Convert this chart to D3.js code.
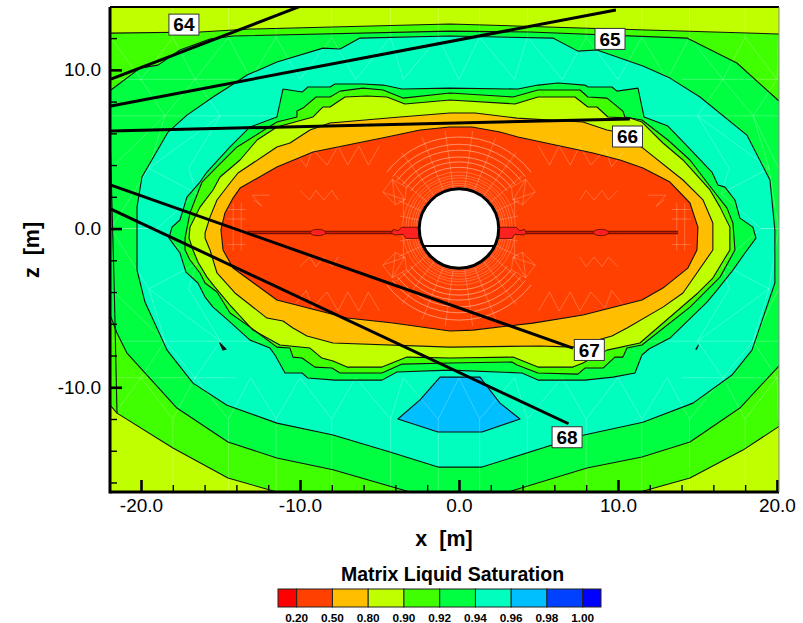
<!DOCTYPE html>
<html><head><meta charset="utf-8">
<script src="https://d3js.org/d3.v7.min.js"></script>
<style>html,body{margin:0;padding:0;background:#fff}svg{display:block}text{font-family:"Liberation Sans",Arial,sans-serif;fill:#000}</style>
</head><body><div id="chart"></div>
<script>
// ---------- data (metres) ----------
const legendLabels = ["0.20","0.50","0.80","0.90","0.92","0.94","0.96","0.98","1.00"];
const legendColors = ["#FF0000","#FF4000","#FFBF00","#BFFF00","#40FF00","#00FF40","#00FFBF","#00BFFF","#0040FF","#0000FF"];
const xMajor = [-20,-10,0,10,20];
const zMajor = [10,0,-10];
const xMinor = [-22,-18,-16,-14,-12,-8,-6,-4,-2,2,4,6,8,12,14,16,18];
const zMinor = [12,8,6,4,2,-2,-4,-6,-8,-12,-14,-16];

const contourA = [[-23,12.3],[-16.29,12.38],[-13.14,12.57],[-0.57,12.89],[7.61,12.64],[20.06,12.26],[21.5,12.2],[21.5,-11.5],[20.06,-12.51],[17.86,-13.96],[14.53,-15.72],[11.38,-16.6],[10.5,-17.2],[-10.5,-17.2],[-11.45,-16.6],[-14.53,-15.72],[-17.99,-13.83],[-21.51,-11.63],[-21.95,-11.12],[-23,-10.5]];
const contourB = [[-23,8],[-21.89,8.73],[-20.06,10.11],[-18.93,10.3],[-17.55,11.25],[-15.66,11.94],[-14.21,12.13],[-0.57,12.44],[4.47,12.38],[14.34,12.0],[17.48,10.43],[20.06,8.1],[21.5,7.0],[21.5,-7.5],[20.06,-8.73],[17.67,-11.31],[14.53,-13.45],[11.51,-14.4],[8.05,-15.09],[3.08,-16.6],[2.8,-17.2],[-3.2,-17.2],[-3.08,-16.6],[-7.92,-15.2],[-11.45,-14.46],[-14.53,-13.45],[-17.74,-11.31],[-20.88,-7.85],[-21.51,-6.58],[-21.89,-5.58],[-23,-4.5]];
const contourC = [[-0.57,12.13],[5.91,12.0],[7.48,11.18],[8.68,11.25],[11.57,10.24],[13.27,9.48],[15.16,8.29],[18.11,5.89],[19.56,3.06],[19.87,-0.09],[19.87,-3.43],[18.43,-7.66],[17.17,-9.23],[14.72,-11.0],[11.57,-12.2],[7.8,-13.02],[1.45,-15.03],[-1.32,-15.03],[-4.34,-14.08],[-7.92,-13.01],[-11.45,-12.26],[-14.59,-11.13],[-16.73,-9.74],[-18.36,-7.66],[-19.75,-4.63],[-20.25,-2.62],[-20.25,1.35],[-19.94,3.25],[-18.3,6.08],[-17.11,7.15],[-15.47,8.29],[-14.09,9.17],[-13.33,9.67],[-11.45,10.49],[-8.55,11.37],[-7.48,11.31],[-6.23,12.0]];
const contourD = [[-18.24,-0.6],[-18.05,0.09],[-17.55,0.54],[-17.11,1.98],[-16.29,2.93],[-15.85,3.56],[-14.4,5.14],[-13.14,6.4],[-11.45,7.03],[-11.07,8.79],[-9.87,8.6],[-9.5,8.92],[-8.11,8.92],[-7.8,9.11],[-6.04,9.11],[-4.78,9.04],[-3.58,8.79],[-0.57,8.85],[3.71,8.79],[4.97,9.04],[6.23,9.17],[7.92,9.04],[8.11,8.92],[9.62,8.92],[9.94,8.66],[11.26,8.85],[11.64,7.03],[13.14,6.46],[14.4,5.14],[15.91,3.56],[16.29,2.74],[16.73,2.61],[17.36,1.8],[17.67,0.66],[18.49,0.09],[18.68,-0.6],[17.99,-1.54],[17.23,-2.62],[16.23,-3.88],[15.6,-4.63],[13.27,-6.9],[11.95,-7.59],[11.51,-7.97],[11.07,-9.1],[9.69,-9.36],[7.92,-9.55],[4.97,-9.55],[3.96,-9.1],[-0.57,-8.92],[-3.9,-9.04],[-4.84,-9.55],[-7.8,-9.55],[-9.5,-9.42],[-9.87,-9.1],[-10.94,-9.1],[-11.57,-7.97],[-11.89,-7.53],[-13.14,-7.03],[-14.53,-5.77],[-15.47,-4.95],[-15.97,-4.32],[-16.42,-3.43],[-17.17,-2.74],[-17.55,-1.54]];
const contourE = [[-17.23,-0.6],[-16.92,0.98],[-16.16,2.93],[-15.22,3.88],[-13.96,5.14],[-11.45,6.71],[-10.19,7.03],[-10.19,7.4],[-9.81,7.59],[-8.99,8.29],[-8.11,8.29],[-7.48,8.66],[-6.04,8.85],[-4.78,8.73],[-3.52,8.22],[-0.57,8.54],[3.4,8.29],[4.97,8.73],[7.61,8.73],[8.11,8.29],[9.31,8.22],[10.31,7.4],[10.44,7.03],[11.51,6.84],[13.14,5.58],[14.53,4.32],[15.97,2.43],[16.86,1.29],[17.23,0.35],[17.36,-1.35],[16.42,-3.06],[15.6,-3.88],[14.53,-4.95],[11.51,-7.34],[10.57,-7.53],[10.31,-8.1],[9.81,-8.1],[9.06,-8.79],[7.92,-8.79],[7.48,-9.17],[4.97,-9.1],[3.65,-8.6],[3.33,-8.41],[-0.57,-8.47],[-3.58,-8.54],[-4.84,-9.1],[-7.48,-9.1],[-7.99,-8.79],[-9.06,-8.73],[-9.87,-8.16],[-10.44,-8.1],[-10.63,-7.53],[-11.45,-7.47],[-13.14,-6.21],[-14.4,-5.32],[-15.22,-4.0],[-15.97,-3.43],[-16.29,-2.8],[-16.92,-1.98],[-17.23,-1.35]];
const contourF = [[-16.98,-0.6],[-16.92,0.09],[-16.29,1.35],[-15.47,2.43],[-15.03,3.25],[-13.77,4.32],[-12.7,5.58],[-11.45,6.4],[-9.18,7.03],[-8.55,7.66],[-8.11,7.66],[-7.17,8.29],[-5.79,8.35],[-4.53,8.29],[-3.4,7.85],[-0.57,8.1],[3.52,7.85],[4.97,8.29],[7.3,8.29],[8.11,7.66],[8.68,7.66],[9.37,7.03],[10.75,6.96],[11.51,6.71],[12.83,5.39],[14.09,4.32],[15.79,2.43],[16.42,1.35],[17.04,0.09],[17.04,-1.35],[15.97,-3.12],[15.03,-4.06],[11.38,-7.21],[9.31,-7.66],[7.8,-8.47],[7.17,-8.73],[4.97,-8.73],[3.4,-8.1],[-0.57,-8.16],[-3.27,-8.1],[-4.84,-8.73],[-7.04,-8.73],[-7.92,-8.35],[-8.62,-8.16],[-9.37,-7.53],[-11.26,-7.34],[-12.96,-6.4],[-14.4,-4.82],[-15.35,-3.69],[-15.85,-3.06],[-16.42,-2.11],[-16.73,-1.35]];
const contourG = [[-15.97,-0.6],[-15.97,-0.28],[-15.66,0.72],[-15.22,1.8],[-14.4,2.87],[-13.9,3.5],[-11.45,5.14],[-10.63,5.39],[-9.37,6.21],[-8.11,6.65],[-3.71,7.03],[-0.57,7.28],[1.01,7.28],[3.65,6.96],[7.8,6.71],[9.31,6.21],[9.94,6.08],[11.57,5.07],[14.09,3.06],[15.35,1.8],[15.97,0.35],[15.97,-1.35],[14.09,-4.06],[12.83,-4.95],[10.57,-6.27],[9.62,-6.77],[7.17,-7.47],[5.09,-7.4],[-0.57,-7.47],[-7.92,-7.21],[-9.56,-6.77],[-10.44,-6.27],[-11.07,-5.83],[-12.08,-5.64],[-14.09,-4.06],[-15.22,-2.8],[-15.66,-1.35]];
const contourH = [[-14.97,-0.09],[-14.72,0.98],[-14.21,1.92],[-13.77,2.55],[-11.45,3.88],[-9.18,4.82],[-4.53,5.77],[-2.45,6.21],[-0.57,6.4],[0.82,6.4],[2.58,6.08],[3.71,5.77],[8.43,4.76],[10.13,4.32],[11.57,3.81],[13.27,2.93],[14.53,1.61],[15.03,0.09],[14.97,-1.35],[14.4,-2.49],[12.83,-3.75],[11.51,-4.5],[7.8,-5.45],[4.65,-5.96],[0.88,-6.4],[-0.57,-6.46],[-4.15,-5.95],[-7.04,-5.64],[-11.45,-4.5],[-14.21,-2.49],[-14.84,-1.35]];
const patchBlue = [[-1.19,-9.36],[-2.45,-10.8],[-3.84,-12.0],[-1.32,-12.82],[1.45,-12.82],[3.84,-12.0],[2.58,-11.0],[1.32,-9.36]];
const edgeContour = [[-21.92,5],[-21.68,-3.9],[-21.51,-11.63]];
const glitchL = [[-15.05,-7.2],[-14.85,-7.65],[-14.65,-7.6]];
const glitchR = [[14.9,-7.6],[15.05,-7.35],[14.95,-7.6]];

const wells = [
  {id:"64", path:[[-21.89,9.42],[-10.0,14.0]], label:[-17.3,12.85]},
  {id:"65", path:[[-21.89,7.72],[9.87,13.77]], label:[9.5,11.95]},
  {id:"66", path:[[-21.89,6.15],[10.75,6.9]], label:[10.6,5.8]},
  {id:"67", path:[[-21.89,2.74],[7.17,-7.53]], label:[8.2,-7.65]},
  {id:"68", path:[[-21.89,1.23],[6.89,-12.3]], label:[6.8,-13.15]}
];
const fractureSpan = [-13.3,13.77];
const fractureZ = -0.25;
const fractureBlobs = [-8.87,8.93];
const nearBlobHalf = [[2.5,0.08],[3.6,0.08],[3.82,-0.14],[4.13,-0.05],[4.23,-0.25],[4.1,-0.4],[3.5,-0.37],[3.33,-0.62],[2.5,-0.62]];
const tunnelRadius = 2.5;
const chordZ = -1.1;
const chordHalf = 2.24;

// finite-element mesh (faint)
const meshRingsInner = [2.6,2.72,2.85,3.0,3.2,3.35,3.56];
const meshRingsOuter = [3.85,4.19,4.5,4.93,5.3,5.76];
const meshSpokes = [[82,6.2],[98,6.2],[68,6.2],[112,6.2],[53,6],[127,6],[40,5.2],[140,5.2],[25,4.2],[155,4.2],[12,3.8],[168,3.8],[-12,3.8],[-168,3.8],[-25,4.2],[-155,4.2],[-40,5.2],[-140,5.2],[-53,6],[-127,6],[-68,6.2],[-112,6.2],[-82,6.2],[-98,6.2]];
const meshZig = [
  [[-21.9,12.05],[-20,9.4],[-18,12.05],[-16.6,9.4],[-14.5,12.05],[-13.1,9.4],[-11.5,12.05],[-10,9.4],[-8,12.05],[-6.5,9.4],[-4.3,12.05],[-3.5,9.4],[-1.3,12.05],[0,9.4],[1.3,12.05],[3.5,9.4],[4.3,12.05],[6.5,9.4],[8,12.05],[10,9.4],[11.5,12.05],[13.1,9.4],[14.5,12.05],[16.6,9.4],[18,12.05],[20,9.4],[20.1,12.05]],
  [[-21.9,-12],[-20,-9.4],[-18,-12],[-16.6,-9.4],[-14.5,-12],[-13.1,-9.4],[-11.5,-12],[-10,-9.4],[-8,-12],[-6.5,-9.4],[-4.3,-12],[-3.5,-9.4],[-1.3,-12],[0,-9.4],[1.3,-12],[3.5,-9.4],[4.3,-12],[6.5,-9.4],[8,-12],[10,-9.4],[11.5,-12],[13.1,-9.4],[14.5,-12],[16.6,-9.4],[18,-12],[20,-9.4],[20.1,-12]],
  [[-21.9,12.05],[-21.9,14]],[[-18,12.05],[-18,14]],[[-14.5,12.05],[-14.5,14]],[[-11.5,12.05],[-11.5,14]],[[-8,12.05],[-8,14]],[[-4.3,12.05],[-4.3,14]],[[-1.3,12.05],[-1.3,14]],[[1.3,12.05],[1.3,14]],[[4.3,12.05],[4.3,14]],[[8,12.05],[8,14]],[[11.5,12.05],[11.5,14]],[[14.5,12.05],[14.5,14]],[[18,12.05],[18,14]],
  [[-18,-12],[-18,-16.6]],[[-14.5,-12],[-14.5,-16.6]],[[-11.5,-12],[-11.5,-16.6]],[[-8,-12],[-8,-16.6]],[[-4.3,-12],[-4.3,-16.6]],[[-1.3,-12],[-1.3,-16.6]],[[1.3,-12],[1.3,-16.6]],[[4.3,-12],[4.3,-16.6]],[[8,-12],[8,-16.6]],[[11.5,-12],[11.5,-16.6]],[[14.5,-12],[14.5,-16.6]],[[18,-12],[18,-16.6]],
  [[-21.9,9.4],[-14,9.4]],[[14,9.4],[20.1,9.4]],[[-21.9,-9.4],[-14,-9.4]],[[14,-9.4],[20.1,-9.4]],
  [[-21.9,7.1],[-11.5,7.1]],[[11.5,7.1],[20.1,7.1]],[[-21.9,-7.1],[-11.5,-7.1]],[[11.5,-7.1],[20.1,-7.1]],
  [[-20,9.4],[-18.5,7.1],[-16.6,9.4],[-15,7.1]],[[20,9.4],[18.5,7.1],[16.6,9.4],[15,7.1]],[[-20,-9.4],[-18.5,-7.1],[-16.6,-9.4],[-15,-7.1]],[[20,-9.4],[18.5,-7.1],[16.6,-9.4],[15,-7.1]],
  [[-21.9,3.8],[-18.5,7.1],[-19.5,3.8],[-15,7.1],[-17,3.8],[-16.5,2.2],[-19.5,3.8],[-21.9,0],[-19,0],[-16.5,2.2]],[[20.1,3.8],[18.5,7.1],[19.5,3.8],[15,7.1],[17,3.8],[16.5,2.2],[19.5,3.8],[20.1,0],[19,0],[16.5,2.2]],
  [[-21.9,-3.8],[-18.5,-7.1],[-19.5,-3.8],[-15,-7.1],[-17,-3.8],[-16.5,-2.2],[-19.5,-3.8],[-21.9,0],[-19,0],[-16.5,-2.2]],[[20.1,-3.8],[18.5,-7.1],[19.5,-3.8],[15,-7.1],[17,-3.8],[16.5,-2.2],[19.5,-3.8],[20.1,0],[19,0],[16.5,-2.2]],
  [[5,5.2],[5.7,4],[6.3,5.2],[7,4],[7.6,5.2],[8.3,4],[9.2,5],[9.6,3.9],[10.4,4.9]],[[-5,5.2],[-5.7,4],[-6.3,5.2],[-7,4],[-7.6,5.2],[-8.3,4],[-9.2,5],[-9.6,3.9],[-10.4,4.9]],
  [[5,-5.2],[5.7,-4],[6.3,-5.2],[7,-4],[7.6,-5.2],[8.3,-4],[9.2,-5],[9.6,-3.9],[10.4,-4.9]],[[-5,-5.2],[-5.7,-4],[-6.3,-5.2],[-7,-4],[-7.6,-5.2],[-8.3,-4],[-9.2,-5],[-9.6,-3.9],[-10.4,-4.9]],
  [[-10,2.4],[-9.4,1.8],[-9,2.4],[-8.5,1.8],[-8,2.4],[-7.6,1.8]],[[10,2.4],[9.4,1.8],[9,2.4],[8.5,1.8],[8,2.4],[7.6,1.8]],
  [[-10,-2.4],[-9.4,-1.8],[-9,-2.4],[-8.5,-1.8],[-8,-2.4],[-7.6,-1.8]],[[10,-2.4],[9.4,-1.8],[9,-2.4],[8.5,-1.8],[8,-2.4],[7.6,-1.8]],
  [[-14.6,1.2],[-13.4,1.2]],[[-14.6,0.6],[-13.4,0.6]],[[-14.6,-1],[-13.4,-1]],[[14.6,1.2],[13.4,1.2]],[[14.6,0.6],[13.4,0.6]],[[14.6,-1],[13.4,-1]],
  [[-14.2,1.6],[-14.2,-1.4]],[[-13.7,1.6],[-13.7,-1.4]],[[14.2,1.6],[14.2,-1.4]],[[13.7,1.6],[13.7,-1.4]],
  [[11.9,2.1],[13,2.1],[12.4,1.4],[12.9,1.8]],[[-11.9,2.1],[-13,2.1],[-12.4,1.4],[-12.9,1.8]],
  [[-4.8,2.3],[-4.2,3.1],[-3.3,2.6],[-3.4,1.8],[-4,1.5],[-4.8,2.3],[-3.4,1.8],[-4.2,3.1],[-4,1.5]],[[4.8,2.3],[4.2,3.1],[3.3,2.6],[3.4,1.8],[4,1.5],[4.8,2.3],[3.4,1.8],[4.2,3.1],[4,1.5]],
  [[-4.8,-2.3],[-4.2,-3.1],[-3.3,-2.6],[-3.4,-1.8],[-4,-1.5],[-4.8,-2.3],[-3.4,-1.8],[-4.2,-3.1],[-4,-1.5]],[[4.8,-2.3],[4.2,-3.1],[3.3,-2.6],[3.4,-1.8],[4,-1.5],[4.8,-2.3],[3.4,-1.8],[4.2,-3.1],[4,-1.5]],
  [[-3.5,1.9],[-3.5,0.8]],[[3.5,1.9],[3.5,0.8]],[[-3.5,-1.9],[-3.5,-0.8]],[[3.5,-1.9],[3.5,-0.8]]
];

const W = 803, H = 623;
const plot = {l:110, r:779, t:7, b:492};
const x = d3.scaleLinear().domain([-21.95,20.13]).range([plot.l, plot.r]);
const z = d3.scaleLinear().domain([13.96,-16.6]).range([plot.t, plot.b]);
const line = d3.line().x(d=>x(d[0])).y(d=>z(d[1]));
const closed = d3.line().x(d=>x(d[0])).y(d=>z(d[1])).curve(d3.curveLinearClosed);
const rS = v => x(v)-x(0);
const rad = d => d*Math.PI/180;

const svg = d3.select("#chart").append("svg").attr("width",W).attr("height",H);
svg.append("defs").append("clipPath").attr("id","plotClip").append("rect")
  .attr("x",plot.l).attr("y",plot.t).attr("width",plot.r-plot.l).attr("height",plot.b-plot.t);
const g = svg.append("g").attr("clip-path","url(#plotClip)");

// level fills
g.append("rect").attr("x",plot.l).attr("y",plot.t).attr("width",plot.r-plot.l).attr("height",plot.b-plot.t).attr("fill",legendColors[3]);
const layers = [
  [contourA,4],[contourB,5],[contourC,6],[patchBlue,7],[contourD,5],[contourE,4],[contourF,3],[contourG,2],[contourH,1]
];
g.append("g").selectAll("path").data(layers).join("path")
  .attr("d",d=>closed(d[0])).attr("fill",d=>legendColors[d[1]]);

// mesh
const meshG = g.append("g").attr("fill","none").attr("stroke","#fff").attr("stroke-width",0.7).attr("stroke-opacity",0.33);
meshG.selectAll("path.zig").data(meshZig).join("path").attr("class","zig").attr("d",line);
meshG.selectAll("circle").data(meshRingsInner).join("circle").attr("cx",x(0)).attr("cy",z(0)).attr("r",rS);
const arc = d3.arc();
[[-rad(52),rad(52)],[rad(128),rad(232)]].forEach(([a0,a1])=>{
  meshG.append("g").attr("transform",`translate(${x(0)},${z(0)})`).selectAll("path").data(meshRingsOuter).join("path")
    .attr("d",r=>arc({innerRadius:rS(r),outerRadius:rS(r),startAngle:a0,endAngle:a1}));
});
meshG.selectAll("path.spoke").data(meshSpokes).join("path").attr("class","spoke")
  .attr("d",s=>line([[2.5*Math.cos(rad(s[0])),2.5*Math.sin(rad(s[0]))],[s[1]*Math.cos(rad(s[0])),s[1]*Math.sin(rad(s[0]))]]));

// contour lines
const strokeG = g.append("g").attr("fill","none").attr("stroke","#111").attr("stroke-width",1.1).attr("stroke-linejoin","round");
strokeG.selectAll("path.c").data(layers).join("path").attr("class","c").attr("d",d=>closed(d[0]));
strokeG.append("path").attr("d",line(edgeContour));
strokeG.append("path").attr("d",closed(glitchL)).attr("fill","#111");
strokeG.append("path").attr("d",closed(glitchR)).attr("fill","#111");

// fracture
g.append("path").attr("d",line(fractureSpan.map(v=>[v,fractureZ]))).attr("stroke","#7a1000").attr("stroke-width",3.4).attr("fill","none");
g.append("path").attr("d",line(fractureSpan.map(v=>[v,fractureZ]))).attr("stroke","#c81e00").attr("stroke-width",1).attr("fill","none");
g.selectAll("ellipse").data(fractureBlobs).join("ellipse")
  .attr("cx",d=>x(d)).attr("cy",z(fractureZ)).attr("rx",rS(0.48)).attr("ry",rS(0.2))
  .attr("fill","#FF2020").attr("stroke","#7a1000").attr("stroke-width",1);
[-1,1].forEach(s=>{
  g.append("path").attr("d",closed(nearBlobHalf.map(p=>[s*p[0],p[1]])))
   .attr("fill","#FF2020").attr("stroke","#7a1000").attr("stroke-width",1);
});

// tunnel
g.append("circle").attr("cx",x(0)).attr("cy",z(0)).attr("r",rS(tunnelRadius)).attr("fill","#fff").attr("stroke","#000").attr("stroke-width",3);
g.append("path").attr("d",line([[-chordHalf,chordZ],[chordHalf,chordZ]])).attr("stroke","#000").attr("stroke-width",2);

// well lines
g.append("g").selectAll("path").data(wells).join("path").attr("d",d=>line(d.path))
  .attr("fill","none").attr("stroke","#000").attr("stroke-width",3);

// axes
const hyphen = d => d3.format(".1f")(d).replace("\u2212","-");
const sizeAxis = (axis,vals,size,fmt)=>axis.tickValues(vals).tickSizeInner(-size).tickSizeOuter(0).tickFormat(fmt);
const bottomMinor = svg.append("g").attr("transform",`translate(0,${plot.b})`).call(sizeAxis(d3.axisBottom(x),xMinor,7,()=>""));
const bottomMajor = svg.append("g").attr("transform",`translate(0,${plot.b})`).call(sizeAxis(d3.axisBottom(x),xMajor,12,hyphen).tickPadding(6.5));
const leftMinor = svg.append("g").attr("transform",`translate(${plot.l},0)`).call(sizeAxis(d3.axisLeft(z),zMinor,7,()=>""));
const leftMajor = svg.append("g").attr("transform",`translate(${plot.l},0)`).call(sizeAxis(d3.axisLeft(z),zMajor,12,hyphen).tickPadding(9));
[bottomMinor,bottomMajor,leftMinor,leftMajor].forEach(a=>{a.select(".domain").remove();a.selectAll("text").attr("font-size",19);});
svg.selectAll("g[font-family]").attr("font-family",null);
bottomMinor.selectAll("line").attr("stroke","#000").attr("stroke-width",1.4);
leftMinor.selectAll("line").attr("stroke","#000").attr("stroke-width",1.4);
bottomMajor.selectAll("line").attr("stroke","#000").attr("stroke-width",2.6);
leftMajor.selectAll("line").attr("stroke","#000").attr("stroke-width",2.6);

// frame
svg.append("path").attr("d",`M${plot.l},${plot.t}H${plot.r}`).attr("stroke","#000").attr("stroke-width",2.2);
svg.append("path").attr("d",`M${plot.l},${plot.t}V${plot.b+1.5}`).attr("stroke","#000").attr("stroke-width",3);
svg.append("path").attr("d",`M${plot.l},${plot.b}H${plot.r}`).attr("stroke","#000").attr("stroke-width",3);
svg.append("path").attr("d",`M${plot.r},${plot.t}V${plot.b}`).attr("stroke","#888").attr("stroke-width",1);

// well labels
const labs = svg.append("g").selectAll("g").data(wells).join("g").attr("transform",d=>`translate(${x(d.label[0])},${z(d.label[1])})`);
labs.append("rect").attr("x",-15).attr("y",-10.5).attr("width",30).attr("height",21).attr("fill","#fff").attr("stroke","#333").attr("stroke-width",1);
labs.append("text").text(d=>d.id).attr("text-anchor","middle").attr("dy","0.36em").attr("font-size",19).attr("font-weight","bold");

// axis titles
svg.append("text").attr("x",444).attr("y",546).attr("text-anchor","middle").attr("font-size",21.5).attr("font-weight","bold").style("white-space","pre").text("x  [m]");
svg.append("text").attr("transform","translate(38.5,250) rotate(-90)").attr("text-anchor","middle").attr("font-size",21.5).attr("font-weight","bold").style("white-space","pre").text("z  [m]");

// legend
svg.append("text").attr("x",452.5).attr("y",581).attr("text-anchor","middle").attr("font-size",19.5).attr("font-weight","bold").text("Matrix Liquid Saturation");
const lx = d3.scalePoint().domain(legendLabels).range([296.7,582.7]);
const edges = [278,...legendLabels.map(l=>lx(l)),601];
svg.append("g").selectAll("rect").data(legendColors).join("rect")
  .attr("x",(d,i)=>edges[i]).attr("width",(d,i)=>edges[i+1]-edges[i]).attr("y",589).attr("height",18)
  .attr("fill",d=>d).attr("stroke","#222").attr("stroke-width",1);
svg.append("g").selectAll("text").data(legendLabels).join("text")
  .attr("x",d=>lx(d)).attr("y",621.5).attr("text-anchor","middle").attr("font-size",11.8).attr("font-weight","bold").text(d=>d);
</script></body></html>
